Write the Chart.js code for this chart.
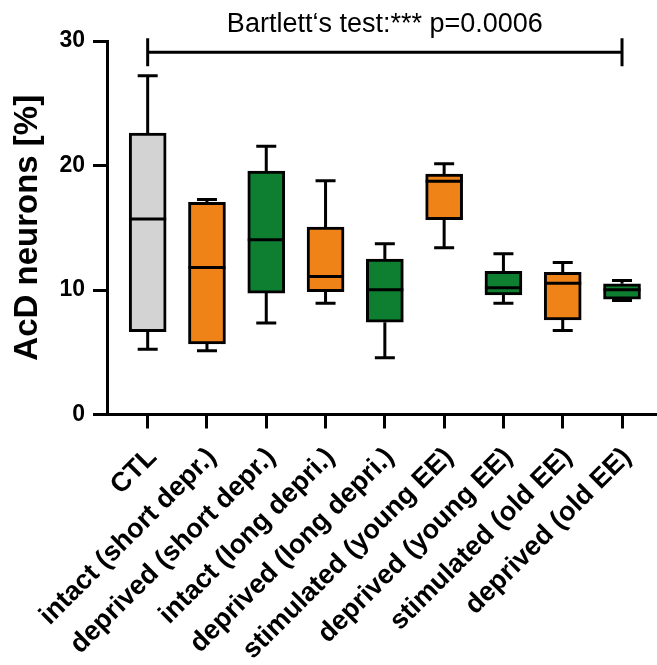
<!DOCTYPE html>
<html><head><meta charset="utf-8">
<script src="https://cdn.jsdelivr.net/npm/chart.js@4.4.1/dist/chart.umd.min.js"></script>
<style>html,body{margin:0;padding:0;background:#fff;overflow:hidden}canvas{display:block}</style>
</head><body>
<canvas id="c" width="657" height="665"></canvas>
<script>
const categories = ['CTL','intact (short depr.)','deprived (short depr.)','intact (long depri.)','deprived (long depri.)','stimulated (young EE)','deprived (young EE)','stimulated (old EE)','deprived (old EE)'];
const mins    = [5.24, 5.13, 7.34, 8.94, 4.55, 13.40, 8.94, 6.74, 9.16];
const q1s     = [6.66, 5.67, 9.75, 9.86, 7.41, 15.65, 9.61, 7.60, 9.27];
const medians = [15.70, 11.80, 14.04, 11.09, 10.02, 18.73, 10.18, 10.55, 10.02];
const q3s     = [22.60, 17.04, 19.56, 15.06, 12.48, 19.32, 11.49, 11.41, 10.50];
const maxs    = [27.20, 17.26, 21.55, 18.78, 13.72, 20.15, 12.91, 12.21, 10.77];
const groupColors = ['#D3D3D3','#EF8318','#0E7F30','#EF8318','#0E7F30','#EF8318','#0E7F30','#EF8318','#0E7F30'];
const yTicks = [0, 10, 20, 30];
const yTitle = 'AcD neurons [%]';
const testLabel = 'Bartlett\u2018s test:*** p=0.0006';
const bracketLevel = 29.1;
const bracketFrom = 0, bracketTo = 8;

const FONT = '"Liberation Sans", Arial, Helvetica, sans-serif';
Chart.defaults.font.family = FONT;
Chart.defaults.color = '#000';

const boxParts = {
  id: 'boxParts',
  beforeDatasetsDraw(chart) {
    const {ctx, scales: {x, y}} = chart;
    ctx.save();
    ctx.strokeStyle = '#000';
    ctx.lineWidth = 3;
    ctx.lineCap = 'butt';
    categories.forEach((c, i) => {
      const px = x.getPixelForValue(i);
      const half = 10;
      ctx.beginPath();
      ctx.moveTo(px, y.getPixelForValue(q3s[i]));
      ctx.lineTo(px, y.getPixelForValue(maxs[i]));
      ctx.moveTo(px, y.getPixelForValue(q1s[i]));
      ctx.lineTo(px, y.getPixelForValue(mins[i]));
      ctx.stroke();
      ctx.beginPath();
      ctx.moveTo(px - half, y.getPixelForValue(maxs[i]));
      ctx.lineTo(px + half, y.getPixelForValue(maxs[i]));
      ctx.moveTo(px - half, y.getPixelForValue(mins[i]));
      ctx.lineTo(px + half, y.getPixelForValue(mins[i]));
      ctx.stroke();
    });
    ctx.restore();
  },
  afterDatasetsDraw(chart) {
    const {ctx, scales: {x, y}} = chart;
    const meta = chart.getDatasetMeta(0);
    ctx.save();
    ctx.strokeStyle = '#000';
    ctx.lineWidth = 3;
    meta.data.forEach((bar, i) => {
      const w = bar.width;
      const py = y.getPixelForValue(medians[i]);
      ctx.beginPath();
      ctx.moveTo(bar.x - w / 2, py);
      ctx.lineTo(bar.x + w / 2, py);
      ctx.stroke();
    });
    const x0 = x.getPixelForValue(bracketFrom), x1 = x.getPixelForValue(bracketTo);
    const yb = y.getPixelForValue(bracketLevel);
    ctx.beginPath();
    ctx.moveTo(x0, yb); ctx.lineTo(x1, yb);
    ctx.moveTo(x0, yb - 14); ctx.lineTo(x0, yb + 14);
    ctx.moveTo(x1, yb - 14); ctx.lineTo(x1, yb + 14);
    ctx.stroke();
    ctx.fillStyle = '#000';
    ctx.font = '27px ' + FONT;
    ctx.textAlign = 'center';
    ctx.textBaseline = 'alphabetic';
    ctx.fillText(testLabel, (x0 + x1) / 2, yb - 20);
    ctx.restore();
  }
};

new Chart(document.getElementById('c'), {
  type: 'bar',
  data: {
    datasets: [{
      data: categories.map((c, i) => ({x: i, y: [q1s[i], q3s[i]]})),
      backgroundColor: groupColors,
      borderColor: '#000',
      borderWidth: 3,
      borderSkipped: false,
      barThickness: 37
    }]
  },
  options: {
    responsive: false,
    animation: false,
    events: [],
    layout: {padding: {top: 41, left: 0, right: 0, bottom: 0}},
    plugins: {legend: {display: false}, tooltip: {enabled: false}},
    scales: {
      x: {
        type: 'linear',
        offset: false,
        min: -0.686,
        max: 8.59,
        afterBuildTicks: s => { s.ticks = categories.map((c, i) => ({value: i})); },
        afterFit: s => { s.height = 250.5; s.paddingLeft = 0; s.paddingRight = 0; },
        ticks: {
          autoSkip: false,
          maxRotation: 45,
          minRotation: 45,
          padding: 13,
          labelOffset: 5,
          color: '#000',
          font: {size: 27, weight: 'bold'},
          callback: v => categories[v]
        },
        grid: {offset: false, drawOnChartArea: false, drawTicks: true, tickLength: 14, tickWidth: 3, tickColor: '#000'},
        border: {display: true, color: '#000', width: 3}
      },
      y: {
        min: 0,
        max: 30,
        afterBuildTicks: s => { s.ticks = yTicks.map(v => ({value: v})); },
        afterFit: s => { s.width = 107; s.paddingTop = 0; s.paddingBottom = 0; },
        ticks: {padding: 8, color: '#000', font: {size: 23, weight: 'bold'}},
        grid: {drawOnChartArea: false, drawTicks: true, tickLength: 14, tickWidth: 3, tickColor: '#000'},
        border: {display: true, color: '#000', width: 3},
        title: {display: true, text: yTitle, color: '#000', font: {size: 33, weight: 'bold', lineHeight: 1.2}, padding: {top: 8, bottom: 0}}
      }
    }
  },
  plugins: [boxParts]
});
</script>
</body></html>
